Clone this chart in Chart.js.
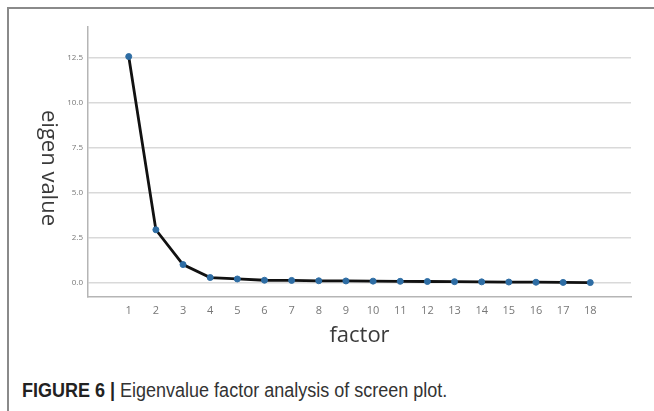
<!DOCTYPE html>
<html lang="en">
<head>
  <meta charset="UTF-8">
  <title>Eigenvalue scree plot</title>
  <script src="https://cdn.jsdelivr.net/npm/chart.js"></script>
  <style>
    html, body { margin: 0; padding: 0; background: #fff; }
    body { width: 654px; height: 411px; position: relative; overflow: hidden; font-family: "Open Sans", sans-serif; }
    #frame { position: absolute; left: 7px; top: 7px; right: 0; bottom: 0; border-left: 2px solid #8a8a8a; border-top: 2px solid #8a8a8a; }
    #plot { position: absolute; left: 0; top: 0; }
    #ytitle { position: absolute; left: 51px; top: 168px; transform: translate(-50%, -50%); writing-mode: vertical-rl;
              font-size: 22px; color: #3a3a3a; white-space: nowrap; line-height: 1; }
    #caption { position: absolute; left: 22px; top: 379px; font-family: "Liberation Sans", sans-serif;
               font-size: 20px; color: #333; white-space: nowrap; transform: scaleX(0.9); transform-origin: left center; }
    #caption b { color: #222; }
  </style>
</head>
<body>
  <div id="frame"></div>
  <canvas id="plot" width="654" height="360"></canvas>
  <div id="ytitle">eigen value</div>
  <div id="caption"><b>FIGURE 6 |</b> Eigenvalue factor analysis of screen plot.</div>

  <script>
    const factors = [1, 2, 3, 4, 5, 6, 7, 8, 9, 10, 11, 12, 13, 14, 15, 16, 17, 18];
    const eigenvalues = [12.56, 2.95, 1.02, 0.3, 0.22, 0.15, 0.14, 0.12, 0.11, 0.1, 0.09, 0.08, 0.07, 0.06, 0.05, 0.04, 0.03, 0.02];
    const yTicks = [0, 2.5, 5, 7.5, 10, 12.5];

    const points = factors.map((f, i) => ({ x: f, y: eigenvalues[i] }));

    const ctx = document.getElementById("plot").getContext("2d");
    new Chart(ctx, {
      type: 'line',
      data: {
        datasets: [{
          data: points,
          borderColor: '#111',
          borderWidth: 2.8,
          tension: 0,
          pointRadius: 3,
          pointBackgroundColor: '#2e6da4',
          pointBorderColor: '#2e6da4',
          pointBorderWidth: 1
        }]
      },
      options: {
        responsive: false,
        animation: false,
        layout: { padding: { left: 0, right: 23, top: 27, bottom: 0 } },
        plugins: { legend: { display: false }, tooltip: { enabled: false } },
        scales: {
          x: {
            type: 'linear',
            min: -0.5,
            max: 19.5,
            afterBuildTicks: s => { s.ticks = factors.map(v => ({ value: v })); },
            afterFit: s => { s.height = 63; },
            grid: { display: false, drawTicks: false },
            border: { display: true, color: '#b5b5b5', width: 1.5 },
            ticks: { padding: 7, color: '#777', font: { family: 'Open Sans', size: 11 }, maxRotation: 0, autoSkip: false },
            title: { display: true, text: 'factor', color: '#3a3a3a', font: { family: 'Open Sans', size: 22 }, padding: { top: 0, bottom: 11 } }
          },
          y: {
            min: -0.78,
            max: 14.2,
            afterBuildTicks: s => { s.ticks = yTicks.map(v => ({ value: v })); },
            afterFit: s => { s.width = 88; },
            grid: { color: '#d9d9d9', lineWidth: 1.5, drawTicks: false },
            border: { display: true, color: '#b5b5b5', width: 1.5 },
            ticks: { padding: 5, color: '#777', font: { family: 'Open Sans', size: 8 }, callback: v => v.toFixed(1) }
          }
        }
      }
    });
  </script>
</body>
</html>
